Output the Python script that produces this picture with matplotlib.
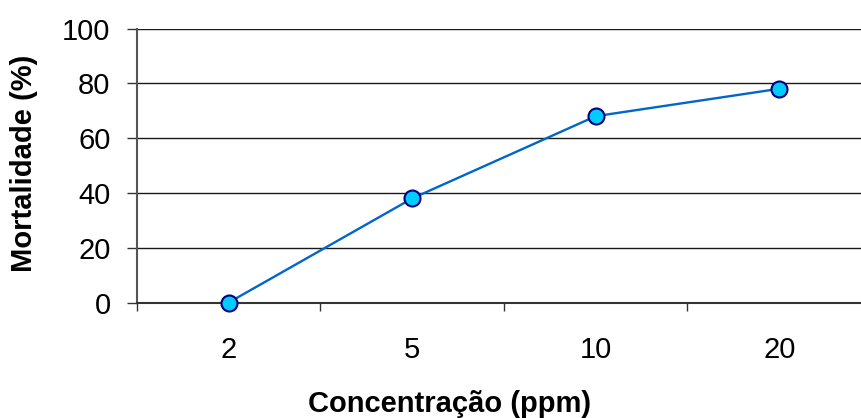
import matplotlib
matplotlib.use("Agg")
import matplotlib.pyplot as plt
from matplotlib.ticker import FixedLocator, NullFormatter

# Mortality by concentration
concentracoes = ["2", "5", "10", "20"]
mortalidade = [0, 38, 68, 78]
y_ticks = [0, 20, 40, 60, 80, 100]

plt.rcParams["font.family"] = ["Liberation Sans", "DejaVu Sans"]

W, H = 862, 418
fig = plt.figure(figsize=(W / 100, H / 100), dpi=100)
# plot area runs past the right edge of the figure
left, right, top, bottom = 137, 871, 28.5, 302.5
ax = fig.add_axes([left / W, 1 - bottom / H, (right - left) / W, (bottom - top) / H])

x = list(range(len(concentracoes)))
ax.plot(x, mortalidade, color="#0066CC", lw=1.7, marker="o", ms=11.5,
        markerfacecolor="#00CCFF", markeredgecolor="#000080", mew=1.5,
        zorder=5, clip_on=False)

ax.set_xlim(-0.5, len(concentracoes) - 0.5)
ax.set_ylim(0, 100)

ax.set_yticks(y_ticks)
ax.set_yticklabels([str(v) for v in y_ticks], fontsize=21)
ax.yaxis.grid(True, color="#1a1a1a", lw=1)
ax.set_axisbelow(True)

# category labels centred, tick marks between categories
ax.set_xticks(x)
ax.set_xticklabels(concentracoes, fontsize=21)
ax.tick_params(axis="x", which="major", length=0, pad=24)
ax.xaxis.set_minor_locator(FixedLocator([i - 0.5 for i in range(len(concentracoes) + 1)]))
ax.xaxis.set_minor_formatter(NullFormatter())
ax.tick_params(axis="x", which="minor", length=6, width=1, color="#333333", direction="out")
ax.tick_params(axis="y", length=7, width=1, color="#333333", direction="out", pad=12)

for s in ["top", "right"]:
    ax.spines[s].set_visible(False)
ax.spines["left"].set_color("#555555")
ax.spines["left"].set_linewidth(1.5)
ax.spines["bottom"].set_color("#333333")
ax.spines["bottom"].set_linewidth(1.5)

fig.text(450 / W, 1 - 404 / H, "Concentração (ppm)", fontsize=21, fontweight="bold",
         ha="center", va="center")
fig.text(24 / W, 1 - 163 / H, "Mortalidade (%)", fontsize=21, fontweight="bold",
         ha="center", va="center", rotation=90)

fig.savefig("out.png", dpi=100, facecolor="white")
